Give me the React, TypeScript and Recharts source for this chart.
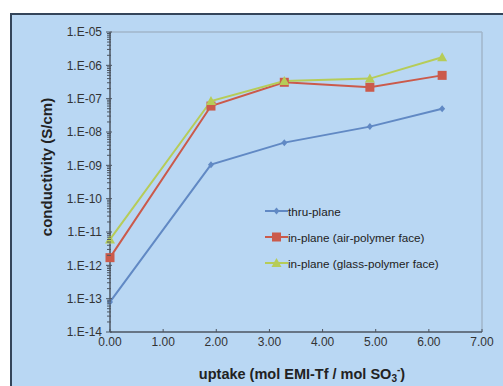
import React from "react";
import { LineChart, Line, XAxis, YAxis, ReferenceLine } from "recharts";

// uptake (mol EMI-Tf / mol SO3-)
const uptake = [0, 1.9, 3.28, 4.89, 6.25];
// conductivity (S/cm)
const thruPlane = [8e-14, 1.05e-9, 4.8e-9, 1.45e-8, 5e-8];
const airFace = [1.7e-12, 6e-8, 3.1e-7, 2.2e-7, 5e-7];
const glassFace = [6e-12, 8.5e-8, 3.4e-7, 4e-7, 1.75e-6];

const xTicks = [0, 1, 2, 3, 4, 5, 6, 7];
const yDecades = [-14, -13, -12, -11, -10, -9, -8, -7, -6, -5];

const series = [
  { key: "thru", name: "thru-plane", color: "#6189C4", shape: "diamond" },
  { key: "air", name: "in-plane (air-polymer face)", color: "#CB5A4B", shape: "square" },
  { key: "glass", name: "in-plane (glass-polymer face)", color: "#B6CC58", shape: "triangle" },
];

const data = uptake.map((u, i) => ({
  uptake: u,
  thru: thruPlane[i],
  air: airFace[i],
  glass: glassFace[i],
}));

// major decades plus the 2..9 minor ticks of a log axis
const yTicks: number[] = [];
yDecades.forEach((e) => {
  yTicks.push(Math.pow(10, e));
  if (e < -5) for (let m = 2; m <= 9; m++) yTicks.push(m * Math.pow(10, e));
});

const FONT = "'Liberation Sans', Arial, sans-serif";
const AXIS = "#4d5560";

const Marker = ({ cx, cy, shape, color }: any) => {
  if (cx == null || cy == null) return null;
  if (shape === "square") {
    return <rect x={cx - 4.5} y={cy - 4.5} width={9} height={9} fill={color} />;
  }
  if (shape === "triangle") {
    return <polygon points={`${cx},${cy - 5} ${cx + 5},${cy + 4} ${cx - 5},${cy + 4}`} fill={color} />;
  }
  return <polygon points={`${cx},${cy - 3.5} ${cx + 3},${cy} ${cx},${cy + 3.5} ${cx - 3},${cy}`} fill={color} />;
};

const YTick = ({ x, y, payload }: any) => {
  const e = Math.log10(payload.value);
  const major = Math.abs(e - Math.round(e)) < 1e-6;
  return (
    <g>
      <line x1={x - (major ? 4 : 3)} x2={x + (major ? 2 : 1)} y1={y} y2={y} stroke={AXIS} strokeWidth={1} />
      {major && (
        <text x={x - 8} y={y} dy="0.35em" textAnchor="end" fontSize={12} fontFamily={FONT} fill="#333">
          {"1.E-" + String(-Math.round(e)).padStart(2, "0")}
        </text>
      )}
    </g>
  );
};

const XTick = ({ x, y, payload }: any) => (
  <g>
    <line x1={x} x2={x} y1={y} y2={y - 3} stroke={AXIS} strokeWidth={1} />
    <text x={x} y={y + 14} textAnchor="middle" fontSize={12} fontFamily={FONT} fill="#333">
      {Number(payload.value).toFixed(2)}
    </text>
  </g>
);

const ChartLegend = () => (
  <div style={{ position: "absolute", left: 265, top: 198, fontFamily: FONT, fontSize: 11.7, color: "#222" }}>
    {series.map((s) => (
      <div key={s.key} style={{ display: "flex", alignItems: "center", height: 26, whiteSpace: "nowrap" }}>
        <svg width={23} height={10}>
          <line x1={0} x2={23} y1={5} y2={5} stroke={s.color} strokeWidth={2} />
          <Marker cx={11.5} cy={5} shape={s.shape} color={s.color} />
        </svg>
        <span>{s.name}</span>
      </div>
    ))}
  </div>
);

export default function App() {
  return (
    <div style={{ position: "absolute", left: 0, top: 0, width: 503, height: 386, background: "#fff", overflow: "hidden" }}>
      <div
        style={{
          position: "absolute",
          left: 10,
          top: 13,
          width: 493,
          height: 373,
          background: "#B9D7F3",
          borderLeft: "2px solid #34455a",
          borderTop: "2px solid #34455a",
          boxSizing: "border-box",
        }}
      />
      <div style={{ position: "absolute", left: 0, top: 0 }}>
        <LineChart width={503} height={386} data={data} margin={{ top: 32, right: 21, bottom: 0, left: 0 }}>
          <ReferenceLine y={1e-5} stroke="#a2b6ca" strokeWidth={1.5} />
          <ReferenceLine x={7} stroke="#a2b6ca" strokeWidth={1.5} />
          <XAxis
            dataKey="uptake"
            type="number"
            domain={[0, 7]}
            ticks={xTicks}
            interval={0}
            height={54}
            tickSize={0}
            tickMargin={0}
            tick={<XTick />}
            axisLine={{ stroke: AXIS, strokeWidth: 1.5 }}
            label={{
              content: () => (
                <text x={302} y={379} textAnchor="middle" fontSize={14.5} fontWeight="bold" fontFamily={FONT} fill="#222">
                  uptake (mol EMI-Tf / mol SO
                  <tspan fontSize={10} dy={3}>3</tspan>
                  <tspan fontSize={10} dy={-9}>-</tspan>
                  <tspan fontSize={14.5} dy={6}>)</tspan>
                </text>
              ),
            }}
          />
          <YAxis
            scale="log"
            domain={[1e-14, 1e-5]}
            allowDataOverflow
            ticks={yTicks}
            interval={0}
            width={110}
            tickSize={0}
            tickMargin={0}
            tick={<YTick />}
            axisLine={{ stroke: AXIS, strokeWidth: 1.5 }}
            label={{
              content: () => (
                <text
                  x={47}
                  y={167}
                  textAnchor="middle"
                  transform="rotate(-90 47 167)"
                  dy="0.35em"
                  fontSize={15}
                  fontWeight="bold"
                  fontFamily={FONT}
                  fill="#222"
                >
                  conductivity (S/cm)
                </text>
              ),
            }}
          />
          {series.map((s) => (
            <Line
              key={s.key}
              dataKey={s.key}
              name={s.name}
              stroke={s.color}
              strokeWidth={2}
              isAnimationActive={false}
              dot={(p: any) => <Marker key={`${s.key}-${p.index}`} cx={p.cx} cy={p.cy} shape={s.shape} color={s.color} />}
              activeDot={false}
            />
          ))}
        </LineChart>
      </div>
      <ChartLegend />
    </div>
  );
}
